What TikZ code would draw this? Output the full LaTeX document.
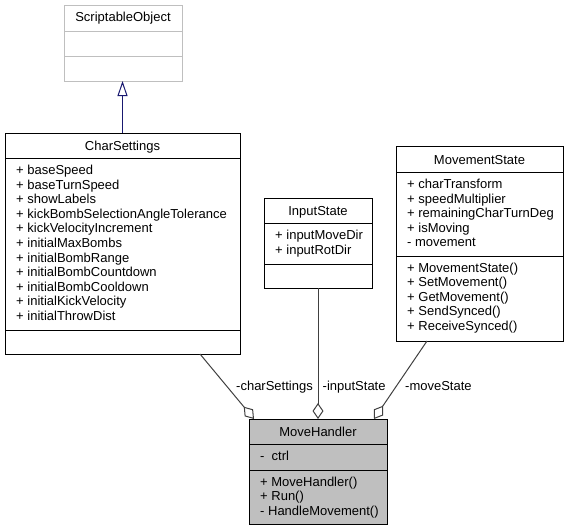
\documentclass[tikz,border=0pt]{standalone}
\usepackage{fontspec}
\setmainfont{Liberation Sans}
\usetikzlibrary{arrows.meta}
\definecolor{edgegray}{HTML}{404040}
\definecolor{boxgray}{HTML}{BFBFBF}
\definecolor{inhblue}{HTML}{191970}
\begin{document}
\begin{tikzpicture}[x=1pt,y=-1pt,font=\fontsize{13}{14.5}\selectfont,
  cls/.style={draw=black,line width=1pt,anchor=north west,inner sep=0pt,outer sep=0pt},
  ext/.style={cls,draw=boxgray},
  txt/.style={anchor=base west,inner sep=0pt},
  ttl/.style={anchor=base,inner sep=0pt},
  lbl/.style={inner sep=0pt},
  divider/.style={line width=1pt},
  agg/.style={draw=edgegray,line width=1pt,-{Diamond[open,length=16pt,width=11pt,line width=1pt]}},
  inh/.style={draw=inhblue,line width=1pt,-{Triangle[open,length=15pt,width=10pt,line width=1pt]}}]
\useasboundingbox (0,0) rectangle (568,531);

% ScriptableObject
\node[ext,minimum width=118pt,minimum height=76pt] (so) at (64,5) {};
\draw[divider,boxgray] (so.west |- 0,31) -- (so.east |- 0,31);
\draw[divider,boxgray] (so.west |- 0,56) -- (so.east |- 0,56);
\node[ttl] (so-t) at (123,21.5) {ScriptableObject};

% CharSettings
\node[cls,minimum width=235pt,minimum height=221pt] (cs) at (5,133) {};
\draw[divider] (cs.west |- 0,158) -- (cs.east |- 0,158);
\draw[divider] (cs.west |- 0,330) -- (cs.east |- 0,330);
\node[ttl] (cs-t) at (122.5,150) {CharSettings};
\foreach \t [count=\i] in {+ baseSpeed,+ baseTurnSpeed,+ showLabels,+ kickBombSelectionAngleTolerance,+ kickVelocityIncrement,+ initialMaxBombs,+ initialBombRange,+ initialBombCountdown,+ initialBombCooldown,+ initialKickVelocity,+ initialThrowDist}
  \node[txt] (cs-a\i) at (16,{174.5+14.6*(\i-1)}) {\t};

% InputState
\node[cls,minimum width=108pt,minimum height=90pt] (is) at (264,198) {};
\draw[divider] (is.west |- 0,223) -- (is.east |- 0,223);
\draw[divider] (is.west |- 0,264) -- (is.east |- 0,264);
\node[ttl] (is-t) at (318,215.5) {InputState};
\foreach \t [count=\i] in {+ inputMoveDir,+ inputRotDir}
  \node[txt] (is-a\i) at (275,{239.5+14.5*(\i-1)}) {\t};

% MovementState
\node[cls,minimum width=167pt,minimum height=195pt] (ms) at (396,146) {};
\draw[divider] (ms.west |- 0,172) -- (ms.east |- 0,172);
\draw[divider] (ms.west |- 0,256) -- (ms.east |- 0,256);
\node[ttl] (ms-t) at (479.5,164.5) {MovementState};
\foreach \t [count=\i] in {+ charTransform,+ speedMultiplier,+ remainingCharTurnDeg,+ isMoving,- movement}
  \node[txt] (ms-a\i) at (407,{188.5+14.5*(\i-1)}) {\t};
\foreach \t [count=\i] in {+ MovementState(),+ SetMovement(),+ GetMovement(),+ SendSynced(),+ ReceiveSynced()}
  \node[txt] (ms-m\i) at (407,{272+14.5*(\i-1)}) {\t};

% MoveHandler
\node[cls,fill=boxgray,minimum width=138pt,minimum height=105pt] (mh) at (249,419) {};
\draw[divider] (mh.west |- 0,444) -- (mh.east |- 0,444);
\draw[divider] (mh.west |- 0,470) -- (mh.east |- 0,470);
\node[ttl] (mh-t) at (318,436.5) {MoveHandler};
\node[txt] (mh-a1) at (260,460.5) {-\ \ ctrl};
\foreach \t [count=\i] in {+ MoveHandler(),+ Run(),- HandleMovement()}
  \node[txt] (mh-m\i) at (260,{486+14.5*(\i-1)}) {\t};

% connectors
\draw[inh] (cs.north) -- (cs.north |- so.south);
\draw[agg] ([xshift=195pt]cs.south west) -- ([xshift=5pt]mh.north west);
\draw[agg] (is.south) -- (mh.north);
\draw[agg] ([xshift=31pt]ms.south west) -- ([xshift=-13pt]mh.north east);

% labels
\node[lbl,anchor=base east] (l-cs) at (313,390) {-charSettings};
\node[lbl,anchor=base west] (l-is) at (322.5,390) {-inputState};
\node[lbl,anchor=base west] (l-ms) at (405,390) {-moveState};
\end{tikzpicture}
\end{document}
